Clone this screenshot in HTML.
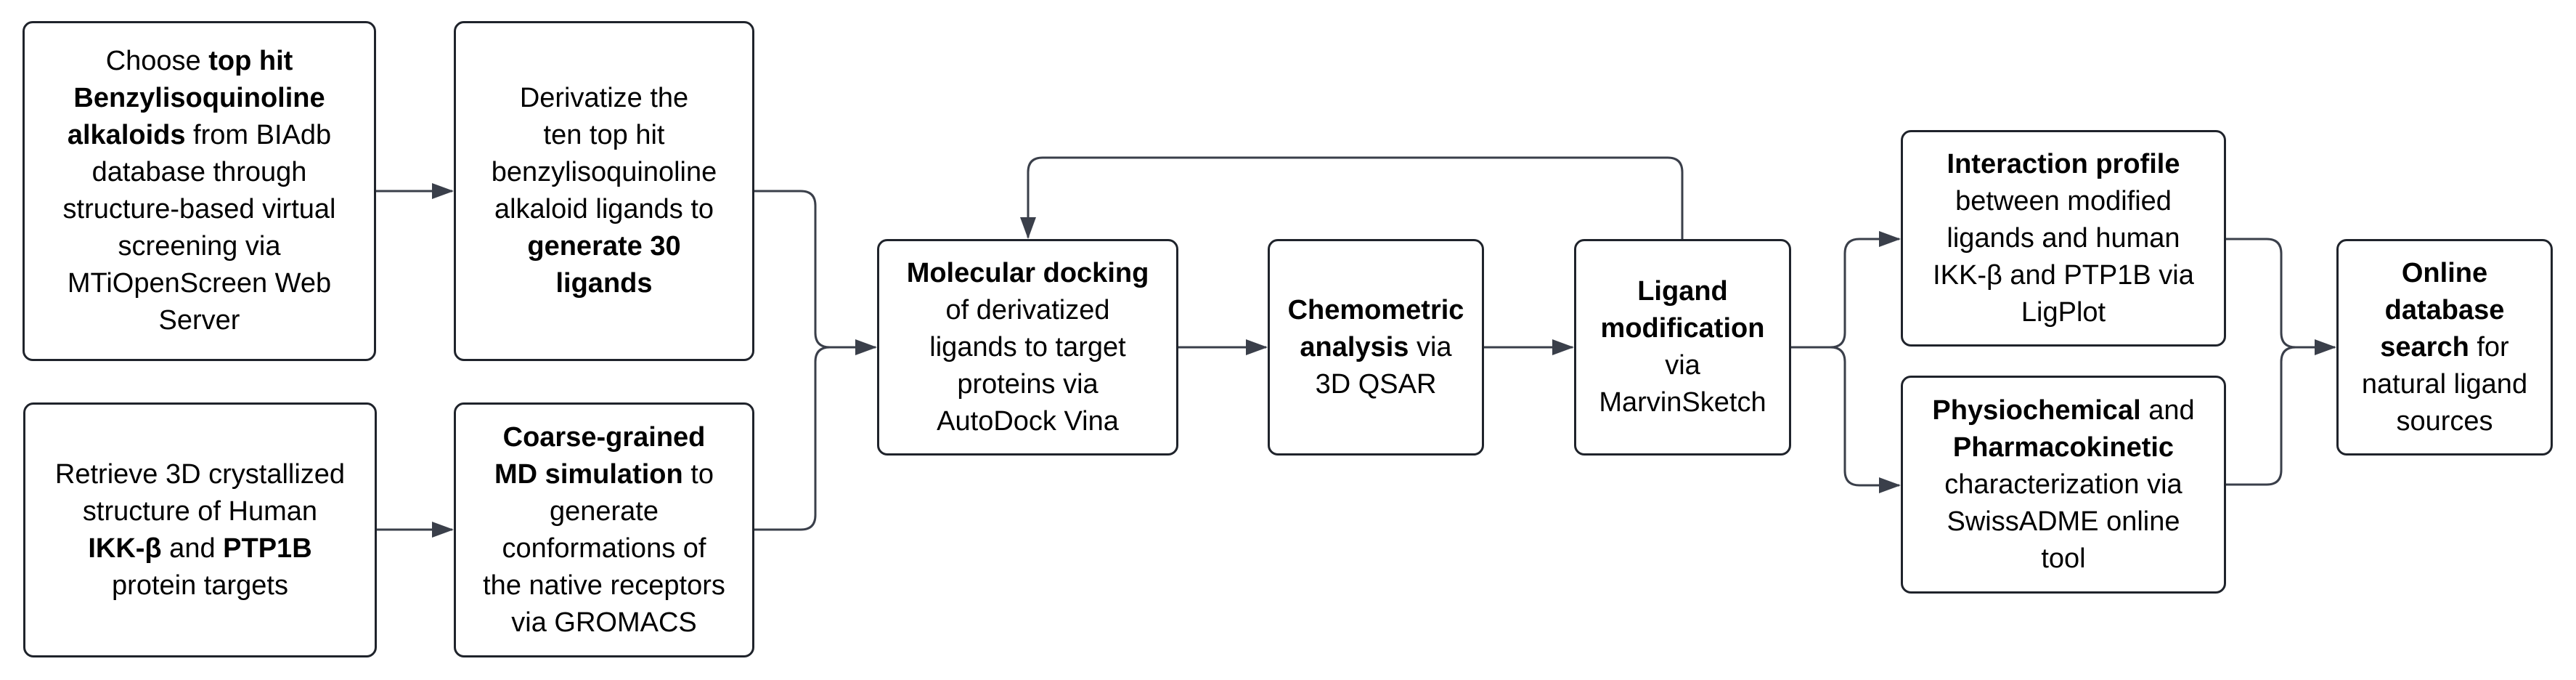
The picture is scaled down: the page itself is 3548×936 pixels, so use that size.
<!DOCTYPE html>
<html><head><meta charset="utf-8"><style>
html,body{margin:0;padding:0;background:#fff;}
body{width:3548px;height:936px;position:relative;overflow:hidden;font-family:"Liberation Sans",Arial,sans-serif;}
.b{position:absolute;box-sizing:border-box;border:3px solid #1f232b;border-radius:14px;background:#fff;display:flex;align-items:center;justify-content:center;text-align:center;font-size:38px;line-height:51px;color:#000;padding:0 4px;white-space:nowrap;}
svg{position:absolute;left:0;top:0;}
</style></head><body>
<svg width="3548" height="936" viewBox="0 0 3548 936">
<defs><marker id="a" markerWidth="30" markerHeight="22" refX="28" refY="11" orient="auto" markerUnits="userSpaceOnUse"><path d="M0,0 L30,11 L0,22 Z" fill="#3a3f4a"/></marker></defs>
<g fill="none" stroke="#3a3f4a" stroke-width="3">
<path d="M517,263 H623" marker-end="url(#a)"/>
<path d="M519,729 H623" marker-end="url(#a)"/>
<path d="M1039,263 H1103 Q1123,263 1123,283 V458 Q1123,478 1143,478 H1206" marker-end="url(#a)"/>
<path d="M1039,729 H1103 Q1123,729 1123,709 V498 Q1123,478 1143,478"/>
<path d="M1623,478 H1744" marker-end="url(#a)"/>
<path d="M2044,478 H2166" marker-end="url(#a)"/>
<path d="M2317,329 V237 Q2317,217 2297,217 H1436 Q1416,217 1416,237 V327" marker-end="url(#a)"/>
<path d="M2467,478 H2521 Q2541,478 2541,458 V349 Q2541,329 2561,329 H2616" marker-end="url(#a)"/>
<path d="M2521,478 Q2541,478 2541,498 V648 Q2541,668 2561,668 H2616" marker-end="url(#a)"/>
<path d="M3066,329 H3122 Q3142,329 3142,349 V458 Q3142,478 3162,478 H3216" marker-end="url(#a)"/>
<path d="M3066,667 H3122 Q3142,667 3142,647 V498 Q3142,478 3162,478"/>
</g></svg>
<div class="b" style="left:31px;top:29px;width:487px;height:468px;"><div>Choose <b>top hit</b><br><b>Benzylisoquinoline</b><br><b>alkaloids</b> from BIAdb<br>database through<br>structure-based virtual<br>screening via<br>MTiOpenScreen Web<br>Server</div></div>
<div class="b" style="left:625px;top:29px;width:414px;height:468px;"><div>Derivatize the<br>ten top hit<br>benzylisoquinoline<br>alkaloid ligands to<br><b>generate 30</b><br><b>ligands</b></div></div>
<div class="b" style="left:32px;top:554px;width:487px;height:351px;"><div>Retrieve 3D crystallized<br>structure of Human<br><b>IKK-β</b> and <b>PTP1B</b><br>protein targets</div></div>
<div class="b" style="left:625px;top:554px;width:414px;height:351px;"><div><b>Coarse-grained</b><br><b>MD simulation</b> to<br>generate<br>conformations of<br>the native receptors<br>via GROMACS</div></div>
<div class="b" style="left:1208px;top:329px;width:415px;height:298px;"><div><b>Molecular docking</b><br>of derivatized<br>ligands to target<br>proteins via<br>AutoDock Vina</div></div>
<div class="b" style="left:1746px;top:329px;width:298px;height:298px;"><div><b>Chemometric</b><br><b>analysis</b> via<br>3D QSAR</div></div>
<div class="b" style="left:2168px;top:329px;width:299px;height:298px;"><div><b>Ligand</b><br><b>modification</b><br>via<br>MarvinSketch</div></div>
<div class="b" style="left:2618px;top:179px;width:448px;height:298px;"><div><b>Interaction profile</b><br>between modified<br>ligands and human<br>IKK-β and PTP1B via<br>LigPlot</div></div>
<div class="b" style="left:2618px;top:517px;width:448px;height:300px;"><div><b>Physiochemical</b> and<br><b>Pharmacokinetic</b><br>characterization via<br>SwissADME online<br>tool</div></div>
<div class="b" style="left:3218px;top:329px;width:298px;height:298px;"><div><b>Online</b><br><b>database</b><br><b>search</b> for<br>natural ligand<br>sources</div></div>
</body></html>
